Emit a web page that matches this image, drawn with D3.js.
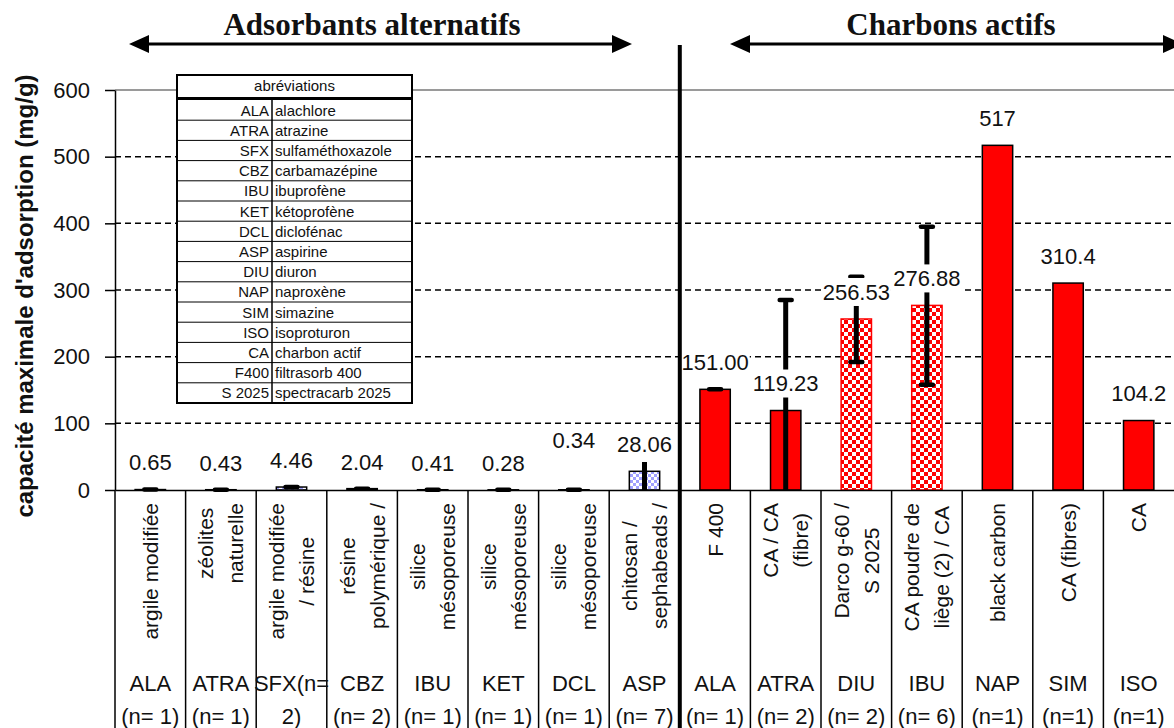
<!DOCTYPE html>
<html>
<head>
<meta charset="utf-8">
<script src="https://cdn.jsdelivr.net/npm/d3@7"></script>
<style>
  body { margin: 0; background: #fff; }
  svg { display: block; }
  text { font-family: "Liberation Sans", Arial, sans-serif; fill: #111; }
</style>
</head>
<body>
<div id="chart"></div>
<script>
// Data
const compounds = ["ALA", "ATRA", "SFX", "CBZ", "IBU", "KET", "DCL", "ASP",
                   "ALA", "ATRA", "DIU", "IBU", "NAP", "SIM", "ISO"];
const adsorbents = [
    ["argile modifiée"], ["zéolites", "naturelle"], ["argile modifiée", "/ résine"],
    ["résine", "polymérique /"], ["silice", "mésoporeuse"], ["silice", "mésoporeuse"],
    ["silice", "mésoporeuse"], ["chitosan /", "sephabeads /"],
    ["F 400"], ["CA / CA", "(fibre)"], ["Darco g-60 /", "S 2025"],
    ["CA poudre de", "liège (2) / CA"], ["black carbon"], ["CA (fibres)"], ["CA"]
];
// bottom row of the category table (SFX wraps in the original)
const footLines = [
    ["ALA", "(n= 1)"], ["ATRA", "(n= 1)"], ["SFX(n=", "2)"], ["CBZ", "(n= 2)"],
    ["IBU", "(n= 1)"], ["KET", "(n= 1)"], ["DCL", "(n= 1)"], ["ASP", "(n= 7)"],
    ["ALA", "(n= 1)"], ["ATRA", "(n= 2)"], ["DIU", "(n= 2)"], ["IBU", "(n= 6)"],
    ["NAP", "(n=1)"], ["SIM", "(n=1)"], ["ISO", "(n=1)"]
];
const valueLabels = ["0.65", "0.43", "4.46", "2.04", "0.41", "0.28", "0.34", "28.06",
                     "151.00", "119.23", "256.53", "276.88", "517", "310.4", "104.2"];
const values = valueLabels.map(Number);
// error bar bounds (mg/g), null = no error bar
const errLow  = [0.65, 0.43, 4.46, 2.04, 0.41, 0.28, 0.34, 0, 151, 0, 192, 158, null, null, null];
const errHigh = [0.65, 0.43, 4.46, 2.04, 0.41, 0.28, 0.34, 42, 151, 285, 320, 395, null, null, null];
// fill family of each bar
const fillType = ["alt", "alt", "alt", "alt", "alt", "alt", "alt", "alt",
                  "ca", "ca", "caMix", "caMix", "ca", "ca", "ca"];
const yTicks = [0, 100, 200, 300, 400, 500, 600];

const abbrCodes = ["ALA", "ATRA", "SFX", "CBZ", "IBU", "KET", "DCL", "ASP", "DIU", "NAP",
                   "SIM", "ISO", "CA", "F400", "S 2025"];
const abbrNames = ["alachlore", "atrazine", "sulfaméthoxazole", "carbamazépine", "ibuprofène",
                   "kétoprofène", "diclofénac", "aspirine", "diuron", "naproxène", "simazine",
                   "isoproturon", "charbon actif", "filtrasorb 400", "spectracarb 2025"];

const width = 1174, height = 728;
const plotLeft = 115, plotRight = 1174, plotTop = 90, plotBottom = 490;
const ids = compounds.map((d, i) => i);

const svg = d3.select("#chart").append("svg")
    .attr("width", width)
    .attr("height", height);

// Patterns
const defs = svg.append("defs");
const redCheck = defs.append("pattern").attr("id", "redCheck")
    .attr("patternUnits", "userSpaceOnUse").attr("width", 8).attr("height", 8);
redCheck.append("rect").attr("width", 8).attr("height", 8).attr("fill", "#ff0000");
redCheck.append("rect").attr("width", 4).attr("height", 4).attr("fill", "#fff");
redCheck.append("rect").attr("x", 4).attr("y", 4).attr("width", 4).attr("height", 4).attr("fill", "#fff");

const blueCheck = defs.append("pattern").attr("id", "blueCheck")
    .attr("patternUnits", "userSpaceOnUse").attr("width", 6).attr("height", 6);
blueCheck.append("rect").attr("width", 6).attr("height", 6).attr("fill", "#fff");
blueCheck.append("rect").attr("width", 3).attr("height", 3).attr("fill", "#a0a0ff");
blueCheck.append("rect").attr("x", 3).attr("y", 3).attr("width", 3).attr("height", 3).attr("fill", "#a0a0ff");

const fills = { alt: "url(#blueCheck)", ca: "#ff0000", caMix: "url(#redCheck)" };
const strokes = { alt: "#000", ca: "#000", caMix: "#ff0000" };

// Scales
const x = d3.scaleBand()
    .domain(ids)
    .range([plotLeft, plotRight])
    .paddingInner(0.57)
    .paddingOuter(0.285);
const y = d3.scaleLinear()
    .domain([0, 600])
    .range([plotBottom, plotTop]);
const step = x.step();
const center = i => x(i) + x.bandwidth() / 2;

// Gridlines
svg.append("g").selectAll("line")
    .data(yTicks.filter(t => t > 0))
    .enter().append("line")
    .attr("x1", plotLeft).attr("x2", plotRight)
    .attr("y1", d => y(d)).attr("y2", d => y(d))
    .attr("stroke", d => d === 600 ? "#9a9a9a" : "#000")
    .attr("stroke-width", d => d === 600 ? 2 : 1.5)
    .attr("stroke-dasharray", d => d === 600 ? null : "6,4");

// Bars
svg.append("g").selectAll("rect")
    .data(ids)
    .enter().append("rect")
    .attr("x", d => x(d))
    .attr("width", x.bandwidth())
    .attr("y", d => y(values[d]))
    .attr("height", d => y(0) - y(values[d]))
    .attr("fill", d => fills[fillType[d]])
    .attr("stroke", d => strokes[fillType[d]])
    .attr("stroke-width", 1.5);

// Error bars
const errIds = ids.filter(i => errLow[i] !== null);
const err = svg.append("g").attr("stroke", "#000");
err.selectAll("line.stem")
    .data(errIds.filter(i => errHigh[i] > errLow[i]))
    .enter().append("line")
    .attr("class", "stem")
    .attr("x1", center).attr("x2", center)
    .attr("y1", i => y(errLow[i])).attr("y2", i => y(errHigh[i]))
    .attr("stroke-width", 5);
const caps = [];
errIds.forEach(i => {
    if (i !== 7) caps.push({ i, v: errHigh[i] }); // no cap visible on the ASP bar
    if (errLow[i] > 0 && errLow[i] !== errHigh[i]) caps.push({ i, v: errLow[i] });
});
err.selectAll("line.cap")
    .data(caps)
    .enter().append("line")
    .attr("class", "cap")
    .attr("x1", d => center(d.i) - 6).attr("x2", d => center(d.i) + 6)
    .attr("y1", d => y(d.v)).attr("y2", d => y(d.v))
    .attr("stroke-width", 4.5)
    .attr("stroke-linecap", "round");

// Value labels with white background
const labelLift = { 6: 23 }; // DCL label was moved up in the original
const labels = svg.append("g").selectAll("g")
    .data(ids)
    .enter().append("g")
    .attr("transform", i => `translate(${center(i)},${y(values[i]) - 27 - (labelLift[i] || 0)})`);
labels.append("text")
    .attr("text-anchor", "middle")
    .attr("dy", "0.36em")
    .style("font-size", "22px")
    .text(i => valueLabels[i]);
labels.insert("rect", "text")
    .each(function(i) {
        const w = this.parentNode.querySelector("text").getComputedTextLength();
        d3.select(this)
            .attr("x", -w / 2 - 1).attr("width", w + 2)
            .attr("y", -14).attr("height", 28)
            .attr("fill", "#fff");
    });

// Y axis
const yAxis = svg.append("g")
    .attr("transform", `translate(${plotLeft},0)`)
    .call(d3.axisLeft(y).tickValues(yTicks).tickSize(10).tickSizeOuter(0).tickPadding(15));
yAxis.select(".domain").attr("stroke", "#000").attr("stroke-width", 1.5);
yAxis.selectAll(".tick line").attr("stroke", "#000").attr("stroke-width", 1.5);
yAxis.selectAll(".tick text")
    .style("font-size", "22px")
    .style("font-family", "'Liberation Sans', Arial, sans-serif")
    .attr("fill", "#111");

svg.append("text")
    .attr("transform", "translate(33,296) rotate(-90)")
    .attr("text-anchor", "middle")
    .style("font-size", "24px")
    .style("font-weight", "bold")
    .text("capacité maximale d'adsorption (mg/g)");

// X axis and category table
svg.append("g")
    .attr("transform", `translate(0,${plotBottom})`)
    .call(d3.axisBottom(x).tickValues([]).tickSizeOuter(0))
    .select(".domain").attr("stroke", "#000").attr("stroke-width", 1.5);

const bounds = ids.map(i => x(i) - (step - x.bandwidth()) / 2);
svg.append("g").selectAll("line")
    .data(bounds)
    .enter().append("line")
    .attr("x1", d => d).attr("x2", d => d)
    .attr("y1", plotBottom).attr("y2", height)
    .attr("stroke", "#000").attr("stroke-width", 1.5);

const cats = svg.append("g").selectAll("g")
    .data(ids)
    .enter().append("g");
cats.each(function(i) {
    const g = d3.select(this);
    const lines = adsorbents[i];
    const texts = lines.map(t => g.append("text")
        .attr("text-anchor", "middle")
        .attr("dy", "0.36em")
        .style("font-size", "21px")
        .text(t));
    // lines are centred on each other, block hangs from the axis
    const maxLen = d3.max(texts, t => t.node().getComputedTextLength());
    const cy = plotBottom + 13 + maxLen / 2;
    texts.forEach((t, j) => {
        const dx = (j - (lines.length - 1) / 2) * 30;
        t.attr("transform", `translate(${center(i) + dx},${cy}) rotate(-90)`);
    });
    footLines[i].forEach((t, j) => {
        g.append("text")
            .attr("x", center(i))
            .attr("y", 683 + j * 33)
            .attr("dy", "0.36em")
            .attr("text-anchor", "middle")
            .style("font-size", "22px")
            .text(t);
    });
});

// Abbreviation table
const tbl = { x0: 177, x1: 412, y0: 75, head: 97, rows: 100, rowH: 20.2, split: 272 };
const tg = svg.append("g");
const tblBottom = tbl.rows + tbl.rowH * abbrCodes.length;
tg.append("rect")
    .attr("x", tbl.x0).attr("y", tbl.y0)
    .attr("width", tbl.x1 - tbl.x0).attr("height", tblBottom - tbl.y0)
    .attr("fill", "#fff").attr("stroke", "#000").attr("stroke-width", 2);
tg.append("line")
    .attr("x1", tbl.x0).attr("x2", tbl.x1)
    .attr("y1", (tbl.head + tbl.rows) / 2).attr("y2", (tbl.head + tbl.rows) / 2)
    .attr("stroke", "#000").attr("stroke-width", 3);
tg.append("text")
    .attr("x", (tbl.x0 + tbl.x1) / 2).attr("y", (tbl.y0 + tbl.head) / 2)
    .attr("dy", "0.36em").attr("text-anchor", "middle")
    .style("font-size", "15px")
    .text("abréviations");
tg.append("line")
    .attr("x1", tbl.split).attr("x2", tbl.split)
    .attr("y1", tbl.rows).attr("y2", tblBottom)
    .attr("stroke", "#000").attr("stroke-width", 1.5);
tg.selectAll("line.row")
    .data(abbrCodes.slice(1))
    .enter().append("line")
    .attr("class", "row")
    .attr("x1", tbl.x0).attr("x2", tbl.x1)
    .attr("y1", (d, k) => tbl.rows + (k + 1) * tbl.rowH)
    .attr("y2", (d, k) => tbl.rows + (k + 1) * tbl.rowH)
    .attr("stroke", "#000").attr("stroke-width", 1);
tg.selectAll("text.code")
    .data(abbrCodes)
    .enter().append("text")
    .attr("class", "code")
    .attr("x", tbl.split - 3)
    .attr("y", (d, k) => tbl.rows + (k + 0.5) * tbl.rowH)
    .attr("dy", "0.36em").attr("text-anchor", "end")
    .style("font-size", "15px")
    .text(d => d);
tg.selectAll("text.name")
    .data(abbrNames)
    .enter().append("text")
    .attr("class", "name")
    .attr("x", tbl.split + 3)
    .attr("y", (d, k) => tbl.rows + (k + 0.5) * tbl.rowH)
    .attr("dy", "0.36em")
    .style("font-size", "15px")
    .text(d => d);

// Divider between the two groups
svg.append("line")
    .attr("x1", bounds[8]).attr("x2", bounds[8])
    .attr("y1", 45).attr("y2", height)
    .attr("stroke", "#000").attr("stroke-width", 4);

// Group headers with double arrows
const groups = [
    { title: "Adsorbants alternatifs", from: 129, to: 632, cx: 372 },
    { title: "Charbons actifs", from: 730, to: 1183, cx: 951 }
];
const arrowY = 44;
groups.forEach(gr => {
    const g = svg.append("g");
    g.append("line")
        .attr("x1", gr.from + 10).attr("x2", gr.to - 10)
        .attr("y1", arrowY).attr("y2", arrowY)
        .attr("stroke", "#000").attr("stroke-width", 3);
    g.append("path")
        .attr("d", `M${gr.from},${arrowY} l20,-9 v18 Z M${gr.to},${arrowY} l-20,-9 v18 Z`)
        .attr("fill", "#000");
    g.append("text")
        .attr("x", gr.cx)
        .attr("y", 35)
        .attr("text-anchor", "middle")
        .style("font-family", "'Liberation Serif', 'Times New Roman', serif")
        .style("font-weight", "bold")
        .style("font-size", "31px")
        .text(gr.title);
});
</script>
</body>
</html>
